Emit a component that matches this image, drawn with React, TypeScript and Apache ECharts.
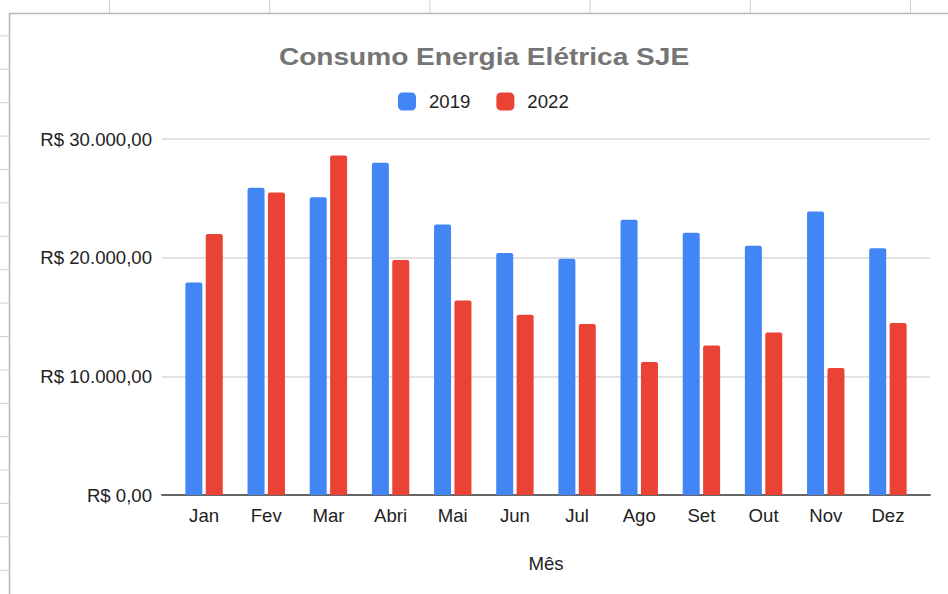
import React, { useEffect, useRef } from "react";
import * as echarts from "echarts";

const months = ["Jan", "Fev", "Mar", "Abri", "Mai", "Jun", "Jul", "Ago", "Set", "Out", "Nov", "Dez"];
const values2019 = [17900, 25900, 25100, 28000, 22800, 20400, 19900, 23200, 22100, 21000, 23900, 20800];
const values2022 = [22000, 25500, 28600, 19800, 16400, 15200, 14400, 11200, 12600, 13700, 10700, 14500];
const seriesNames = ["2019", "2022"];
const yTicks = [0, 10000, 20000, 30000];

const FONT = '"Liberation Sans", Arial, sans-serif';
const FS = 18.6;

function fmtBRL(v: number): string {
  const fixed = v.toFixed(2);
  const [intPart, dec] = fixed.split(".");
  const withDots = intPart.replace(/\B(?=(\d{3})+(?!\d))/g, ".");
  return "R$ " + withDots + "," + dec;
}

export default function App() {
  const ref = useRef<HTMLDivElement>(null);
  useEffect(() => {
    if (!ref.current) return;
    const chart = echarts.init(ref.current, null, { renderer: "svg" });

    // spreadsheet frame decorations
    const deco: any[] = [];
    deco.push({ type: "line", shape: { x1: 9, y1: 13.5, x2: 948, y2: 13.5 }, style: { stroke: "#b7b7b7", lineWidth: 1.5 }, silent: true });
    deco.push({ type: "line", shape: { x1: 9.5, y1: 13, x2: 9.5, y2: 594 }, style: { stroke: "#b7b7b7", lineWidth: 1.5 }, silent: true });
    for (let x = 109.5; x < 948; x += 160.2) {
      deco.push({ type: "line", shape: { x1: x, y1: 0, x2: x, y2: 13 }, style: { stroke: "#d0d0d0", lineWidth: 1 }, silent: true });
    }
    for (let y = 2.5; y < 594; y += 33.4) {
      if (y < 14) continue;
      deco.push({ type: "line", shape: { x1: 0, y1: y, x2: 9, y2: y }, style: { stroke: "#d0d0d0", lineWidth: 1 }, silent: true });
    }
    deco.push({
      type: "text",
      x: 484,
      y: 57,
      scaleX: 1.17,
      style: {
        text: "Consumo Energia Elétrica SJE",
        font: `bold 24px ${FONT}`,
        fill: "#757575",
        align: "center",
        verticalAlign: "middle",
      },
    });

    chart.setOption({
      animation: false,
      backgroundColor: "#ffffff",
      graphic: deco,
      legend: {
        data: seriesNames,
        left: 398,
        top: 92,
        padding: 0,
        itemWidth: 18,
        itemHeight: 18,
        itemGap: 26,
        icon: "roundRect",
        textStyle: { fontFamily: FONT, fontSize: FS, color: "#222222", padding: [0, 0, 0, 8] },
      },
      grid: [
        { left: 162, right: 18, top: 139, bottom: 99 },
        { left: 173, right: 29, top: 139, bottom: 99 },
      ],
      xAxis: [
        {
          type: "value",
          gridIndex: 0,
          min: 0,
          max: 1,
          axisLine: { show: true, onZero: false, lineStyle: { color: "#666666", width: 2 } },
          axisTick: { show: false },
          axisLabel: { show: false },
          splitLine: { show: false },
        },
        {
          type: "category",
          gridIndex: 1,
          data: months,
          axisLine: { show: false },
          axisTick: { show: false },
          axisLabel: { fontFamily: FONT, fontSize: FS, color: "#222222", margin: 11 },
          name: "Mês",
          nameLocation: "middle",
          nameGap: 59,
          nameTextStyle: { fontFamily: FONT, fontSize: FS, color: "#222222" },
        },
      ],
      yAxis: [
        {
          type: "value",
          gridIndex: 0,
          min: yTicks[0],
          max: yTicks[yTicks.length - 1],
          interval: yTicks[1] - yTicks[0],
          axisLine: { show: false },
          axisTick: { show: false },
          axisLabel: {
            fontFamily: FONT,
            fontSize: FS,
            color: "#222222",
            margin: 10,
            formatter: (v: number) => fmtBRL(v),
          },
          splitLine: { show: true, lineStyle: { color: "#d9d9d9", width: 1.5 } },
        },
        {
          type: "value",
          gridIndex: 1,
          min: yTicks[0],
          max: yTicks[yTicks.length - 1],
          interval: yTicks[1] - yTicks[0],
          axisLine: { show: false },
          axisTick: { show: false },
          axisLabel: { show: false },
          splitLine: { show: false },
        },
      ],
      series: [
        {
          name: seriesNames[0],
          type: "bar",
          xAxisIndex: 1,
          yAxisIndex: 1,
          data: values2019,
          barWidth: 17,
          barGap: "20%",
          itemStyle: { color: "#4285F4", borderRadius: [2, 2, 0, 0] },
        },
        {
          name: seriesNames[1],
          type: "bar",
          xAxisIndex: 1,
          yAxisIndex: 1,
          data: values2022,
          barWidth: 17,
          barGap: "20%",
          itemStyle: { color: "#EA4335", borderRadius: [2, 2, 0, 0] },
        },
      ],
    });
    return () => chart.dispose();
  }, []);
  return (
    <div
      ref={ref}
      style={{ position: "absolute", left: 0, top: 0, width: 948, height: 594 }}
    />
  );
}
